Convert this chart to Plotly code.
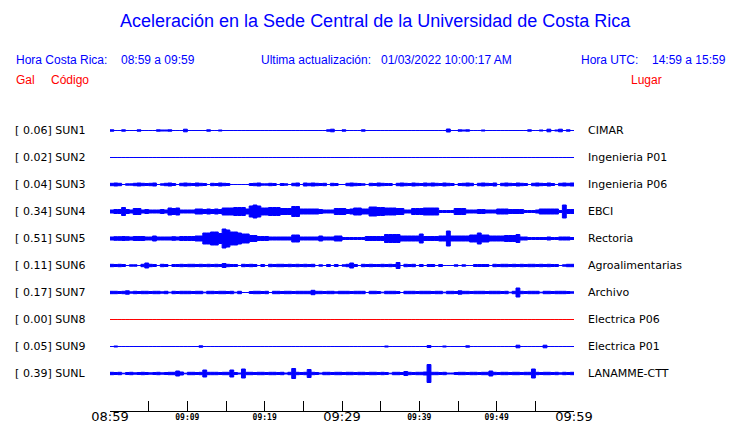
import plotly.graph_objects as go

# ---------------- data ----------------
CODES = ["SUN1", "SUN2", "SUN3", "SUN4", "SUN5", "SUN6", "SUN7", "SUN8", "SUN9", "SUNL"]
GAL = [0.06, 0.02, 0.04, 0.34, 0.51, 0.11, 0.17, 0.00, 0.05, 0.39]
PLACES = ["CIMAR", "Ingenieria P01", "Ingenieria P06", "EBCI", "Rectoria",
          "Agroalimentarias", "Archivo", "Electrica P06", "Electrica P01", "LANAMME-CTT"]

TICK_MINUTES_BIG = [0, 30, 60]
TICK_LABELS_BIG = ["08:59", "09:29", "09:59"]
TICK_MINUTES_SMALL = [10, 20, 40, 50]
TICK_LABELS_SMALL = ["09:09", "09:19", "09:39", "09:49"]
TICK_MINUTES_ALL = [0, 5, 10, 15, 20, 25, 30, 35, 40, 45, 50, 55, 60]

WINDOW_MINUTES = 60
SAMPLE_MINUTES = 0.5   # envelope samples every 30 s (120 per trace)

# envelope half-amplitude of each trace per 30 s sample (display units)
SUN1 = [1.2,0.5,0.5,1.2,0.5,0.5,0.5,1.2,0.5,0.5,
        0.5,0.5,1.2,1,1,1.2,0.5,0.5,0.5,1.8,
        0.5,0.5,0.5,0.5,0.5,1.2,0.5,0.5,1,0.5,
        0.5,0.5,0.5,0.5,0.5,0.5,0.5,0.5,0.5,0.5,
        0.5,0.5,0.5,0.5,0.5,0.5,0.5,0.5,0.5,0.5,
        0.5,0.5,0.5,0.5,0.5,0.5,1.2,1.8,0.5,0.5,
        1.2,0.5,0.5,0.5,0.5,1.2,0.5,0.5,0.5,0.5,
        0.5,0.5,0.5,0.5,0.5,0.5,0.5,0.5,0.5,0.5,
        0.5,0.5,0.5,0.5,0.5,0.5,0.5,2,0.5,0.5,
        1.2,1,1.2,0.5,0.5,0.5,1,0.5,0.5,0.5,
        0.5,0.5,0.5,0.5,0.5,0.5,0.5,0.5,1.2,0.5,
        0.5,1,0.5,1.8,0.5,1,1.8,0.5,1.2,0.5]
SUN2 = [0.5,0.5,0.5,0.5,0.5,0.5,0.5,0.5,0.5,0.5,
        0.5,0.5,0.5,0.5,0.5,0.5,0.5,0.5,0.5,0.5,
        0.5,0.5,0.5,0.5,0.5,0.5,0.5,0.5,0.5,0.5,
        0.5,0.5,0.5,0.5,0.5,0.5,0.5,0.5,0.5,0.5,
        0.5,0.5,0.5,0.5,0.5,0.5,0.5,0.5,0.5,0.5,
        0.5,0.5,0.5,0.5,0.5,0.5,0.5,0.5,0.5,0.5,
        0.5,0.5,0.5,0.5,0.5,0.5,0.5,0.5,0.5,0.5,
        0.5,0.5,0.5,0.5,0.5,0.5,0.5,0.5,0.5,0.5,
        0.5,0.5,0.5,0.5,0.5,0.5,0.5,0.5,0.5,0.5,
        0.5,0.5,0.5,0.5,0.5,0.5,0.5,0.5,0.5,0.5,
        0.5,0.5,0.5,0.5,0.5,0.5,0.5,0.5,0.5,0.5,
        0.5,0.5,0.5,0.5,0.5,0.5,0.5,0.5,0.5,0.5]
SUN3 = [1.7,2,1.7,0.5,1.2,1.2,1.7,2,1.7,1.5,
        1.7,2,0.5,1.2,1.7,2,1.5,0.5,1.7,2,
        1.7,1.5,2,1.7,1.5,0.5,1.7,1.5,2,1.7,
        1.5,0.5,0.5,0.5,0.5,0.5,1.5,1.7,2,1.2,
        1.2,1.7,1.5,0.5,1.5,1.2,0.5,1.7,2,0.5,
        2,1.7,2,1.7,1.5,1.7,0.5,1.7,1.5,0.5,
        0.5,1.7,2,1.7,1.5,1.2,0.5,1.7,1.5,2,
        1.7,1.5,1.5,0.5,1.7,2,1.7,1.5,2,1.7,
        1.5,2,1.7,2,1.7,1.5,2,1.7,1.5,0.5,
        1.5,1.7,2,1.7,0.5,1.7,2,1.7,1.5,2,
        0.5,1.7,2,1.7,1.5,2,1.7,1.5,0.5,1.7,
        2,1.7,1.5,2,1.5,0.5,1.7,2,1.7,2]
SUN4 = [2,2.5,2.5,4.5,2.5,2,3.5,3.5,2,2.5,
        2,2,2,2.5,2,4,3.5,4,2,2,
        2,2,3,3,2.5,3,2.5,3,2.5,4,
        4,4,4.5,4.5,4.5,3,6,7,6,4,
        4,4.5,4.5,4.5,3.5,3.5,3.5,5.5,5.5,3,
        3,3,3,3,2.5,2,2,2,3.5,3.5,
        3.5,2.5,3,4,4,3,3,5,5,4.5,
        4.5,4,4,4,3.5,3.5,2,2,3.5,3.5,
        3.5,4,4,4,4,1.5,1.5,1.5,1.5,3.5,
        3.5,3.5,2,2,2,2.5,2.5,2,2,2,
        3,3,3,2.5,2.5,2.5,2.5,1.5,1.5,1.5,
        2,3,3,3,3,3,1.5,7,2.5,2.5]
SUN5 = [2,2.3,2.3,2.5,2.3,2,2.5,2.5,2.5,2,
        2,3,2,2,2,2,2.3,2,2.5,2.5,
        2.5,2.5,3,3,6,6,7,7,5.5,10,
        9,7,7,6,5,5,3.5,3.5,2.5,2.5,
        2.5,2,2,2,2,2,2,4,4,2,
        2,2,2,2,3,2,2,2,3,3,
        1.5,1.5,1.5,1.5,1.5,1.5,2.5,2.5,2.5,2.5,
        2.5,4.5,4.5,4.5,4.5,3,3,3,3,3,
        5,2.5,2.5,2.5,2.5,3,3,8,3,3,
        3,3,3,4,4,6,4,4,3,3,
        3,3,3.5,3.5,3.5,4.5,2,2,1.5,1.5,
        1.5,1.5,1.5,2,1.5,1.5,2,2,2,1.5]
SUN6 = [1.7,1.5,1.7,1.5,0.5,1.2,1.2,0.5,1.7,3,
        1.7,1.5,0.5,1.7,1.5,0.5,1.5,1.5,1.7,1.5,
        1.7,1.7,1.5,1.7,1.5,1.7,1.5,1.7,1.5,2.5,
        1.7,1.5,1.5,0.5,1.7,1.5,1.7,1.5,0.5,1.5,
        0.5,1.7,1.5,1.7,1.7,1.5,1.7,1.5,1.7,1.5,
        1.7,1.5,1.7,0.5,1.2,0.5,1.5,0.5,1.5,0.5,
        1.2,1.7,3,1.5,0.5,1.7,1.5,1.7,1.5,1.5,
        1.7,1.5,1.7,1.5,3.5,0.5,1.7,1.5,1.7,0.5,
        1.5,0.5,1.5,1.5,0.5,1.5,0.5,0.5,0.5,1.2,
        0.5,1.2,0.5,0.5,1.5,1.5,1.5,1.5,0.5,1.7,
        1.5,1.7,1.7,1.5,1.7,1.5,1.7,1.5,1.7,1.7,
        1.5,1.7,1.5,1.7,1.5,1.5,0.5,1.2,1.7,1.7]
SUN7 = [1.7,1.7,1.5,1.7,2.2,1.2,1.7,1.5,1.7,1.7,
        1.5,1.7,1.7,1.2,1.7,0.8,1.7,1.5,1.7,1.7,
        1.7,1.5,1.7,1.7,0.8,1.7,1.7,1.5,1.7,1.7,
        1.5,1.7,0.8,1.7,0.5,0.5,1.5,1.7,1.7,1.5,
        1.7,0.5,1.7,1.7,1.5,1.7,1.7,1.5,1.7,1.7,
        1.7,1.7,2.7,1.7,1.7,1.5,1.7,1.7,1.2,1.7,
        1.7,1.7,1.5,1.7,1.7,1.7,0.5,1.7,1.7,1.5,
        0.8,1.7,1.7,1.7,1.5,0.5,1.7,1.7,1.7,1.5,
        1.7,1.7,1.7,1.5,1.7,1.7,0.8,1.7,1.7,1.5,
        2.2,1.7,1.7,1.5,1.7,1.7,1.7,1.5,1.7,1.7,
        1.7,1.5,1.7,0.8,1.7,5,1.7,1.5,1.7,1.7,
        1.7,0.8,1.7,1.7,1.5,1.7,1.7,1.7,1.5,1.2]
SUN8 = [0.5,0.5,0.5,0.5,0.5,0.5,0.5,0.5,0.5,0.5,
        0.5,0.5,0.5,0.5,0.5,0.5,0.5,0.5,0.5,0.5,
        0.5,0.5,0.5,0.5,0.5,0.5,0.5,0.5,0.5,0.5,
        0.5,0.5,0.5,0.5,0.5,0.5,0.5,0.5,0.5,0.5,
        0.5,0.5,0.5,0.5,0.5,0.5,0.5,0.5,0.5,0.5,
        0.5,0.5,0.5,0.5,0.5,0.5,0.5,0.5,0.5,0.5,
        0.5,0.5,0.5,0.5,0.5,0.5,0.5,0.5,0.5,0.5,
        0.5,0.5,0.5,0.5,0.5,0.5,0.5,0.5,0.5,0.5,
        0.5,0.5,0.5,0.5,0.5,0.5,0.5,0.5,0.5,0.5,
        0.5,0.5,0.5,0.5,0.5,0.5,0.5,0.5,0.5,0.5,
        0.5,0.5,0.5,0.5,0.5,0.5,0.5,0.5,0.5,0.5,
        0.5,0.5,0.5,0.5,0.5,0.5,0.5,0.5,0.5,0.5]
SUN9 = [0.5,1,0.5,0.5,0.5,0.5,0.5,0.5,0.5,0.5,
        0.5,0.5,0.5,0.5,0.5,0.5,0.5,0.5,0.5,0.5,
        0.5,0.5,0.5,1.2,0.5,0.5,0.5,0.5,0.5,0.5,
        0.5,0.5,0.5,0.5,0.5,0.5,0.5,0.5,0.5,0.5,
        0.5,0.5,0.5,0.5,0.5,0.5,0.5,0.5,0.5,0.5,
        0.5,0.5,0.5,0.5,0.5,0.5,0.5,0.5,0.5,0.5,
        0.5,0.5,0.5,0.5,0.5,0.5,0.5,0.5,0.5,0.5,
        0.5,1,0.5,0.5,0.5,0.5,0.5,0.5,0.5,0.5,
        0.5,0.5,1.5,0.5,0.5,0.5,1,0.5,0.5,0.5,
        0.5,0.5,1.2,0.5,0.5,0.5,0.5,0.5,0.5,0.5,
        0.5,0.5,0.5,0.5,0.5,1.8,0.5,0.5,0.5,0.5,
        0.5,0.5,1.8,0.5,0.5,0.5,0.5,0.5,0.5,0.5]
SUNL = [1.7,1.5,1.7,0.8,1.5,1.7,1.2,1.5,1.7,1.5,
        1.2,1.5,1.7,1.2,1.5,1.7,1.7,3,2,0.8,
        1.7,1.7,1.5,1.7,4,1.7,1.7,1.7,1.5,1.7,
        1.7,4,1.5,1,5,1.7,1.7,1.5,1.7,1.7,
        1.5,1.7,1.7,1.5,1.7,1,1.7,5.5,1.7,1.5,
        1.7,4.5,1.7,1.5,1,1.7,1.7,1.5,1.7,1.7,
        1.5,1.7,1.7,1.5,1.7,1.7,1.5,1.7,1.7,1.5,
        1.7,1.5,0.8,1.7,1.7,1.5,2.5,1.7,1.5,1.7,
        1.7,2,9.5,1.7,1.7,1.5,1.7,1,1,1.5,
        1.7,1.7,1.5,1.7,1.7,1.5,1.7,1.7,3,1.7,
        1.5,1.7,1.7,1.5,1.7,1.7,1.5,1.7,1.7,5,
        1.7,1.5,1.7,1.7,1.5,1.7,1.2,1.7,1.5,1.7]

TRACES = [SUN1, SUN2, SUN3, SUN4, SUN5, SUN6, SUN7, SUN8, SUN9, SUNL]

# ---------------- styling / layout ----------------
BLUE = "#0000FF"
RED = "#FF0000"
TRACE_COLORS = [BLUE] * 7 + [RED] + [BLUE] * 2
ROW_STEP = 27          # vertical spacing between traces in display units
LINE_W = 1

W, H = 740, 423
ML, MR, MT, MB = 110, 166, 100, 12
PW = W - ML - MR
PH = H - MT - MB
Y_TOP = 30.5
Y_BOT = Y_TOP - PH


def px_to_paper_x(px):
    return (px - ML) / PW


def px_to_paper_y(py):
    return (H - MB - py) / PH


fig = go.Figure()

n_samples = len(SUN1)
edges = [i * SAMPLE_MINUTES for i in range(n_samples + 1)]

for k, vals in enumerate(TRACES):
    center = -k * ROW_STEP
    xs, ys = [], []
    for i, v in enumerate(vals):
        h = max(v - LINE_W / 2, 0)
        xs += [edges[i], edges[i + 1]]
        ys += [center + h, center + h]
    for i in range(len(vals) - 1, -1, -1):
        h = max(vals[i] - LINE_W / 2, 0)
        xs += [edges[i + 1], edges[i]]
        ys += [center - h, center - h]
    xs.append(xs[0])
    ys.append(ys[0])
    fig.add_trace(go.Scatter(
        x=xs, y=ys, mode="lines", fill="toself",
        fillcolor=TRACE_COLORS[k],
        line=dict(color=TRACE_COLORS[k], width=LINE_W, simplify=False),
        hoverinfo="skip", showlegend=False,
    ))

# invisible traces so the overlay label axes are drawn
fig.add_trace(go.Scatter(x=[None], y=[None], xaxis="x2", showlegend=False, hoverinfo="skip"))
fig.add_trace(go.Scatter(x=[None], y=[None], xaxis="x3", showlegend=False, hoverinfo="skip"))

annotations = []
LABEL_FONT = dict(family="DejaVu Sans", size=11, color="black")
for k in range(len(CODES)):
    center = -k * ROW_STEP
    annotations.append(dict(
        x=px_to_paper_x(13), xref="paper", y=center, yref="y",
        text="[", showarrow=False, xanchor="left", yanchor="middle", font=LABEL_FONT))
    annotations.append(dict(
        x=px_to_paper_x(88), xref="paper", y=center, yref="y",
        text=f"{GAL[k]:.2f}] {CODES[k]}", showarrow=False,
        xanchor="right", yanchor="middle", font=LABEL_FONT))
    annotations.append(dict(
        x=px_to_paper_x(586), xref="paper", y=center, yref="y",
        text=PLACES[k], showarrow=False,
        xanchor="left", yanchor="middle", font=LABEL_FONT))

HEAD = "Liberation Sans"
header = [
    ("Aceleración en la Sede Central de la Universidad de Costa Rica", 375.5, 21, "center", BLUE, 18),
    ("Hora Costa Rica:", 14, 60, "left", BLUE, 12),
    ("08:59 a 09:59", 119, 60, "left", BLUE, 12),
    ("Ultima actualización:", 259, 60, "left", BLUE, 12),
    ("01/03/2022 10:00:17 AM", 379, 60, "left", BLUE, 12),
    ("Hora UTC:", 579, 60, "left", BLUE, 12),
    ("14:59 a 15:59", 650, 60, "left", BLUE, 12),
    ("Gal", 14, 80, "left", RED, 12),
    ("Código", 49, 80, "left", RED, 12),
    ("Lugar", 629, 80, "left", RED, 12),
]
for text, px, py, anchor, color, size in header:
    annotations.append(dict(
        x=px_to_paper_x(px), xref="paper", y=px_to_paper_y(py), yref="paper",
        text=text, showarrow=False, xanchor=anchor, yanchor="middle",
        font=dict(family=HEAD, size=size, color=color)))

fig.update_layout(
    width=W, height=H,
    margin=dict(l=ML, r=MR, t=MT, b=MB, autoexpand=False),
    paper_bgcolor="white", plot_bgcolor="white",
    showlegend=False,
    annotations=annotations,
    xaxis=dict(
        range=[0, WINDOW_MINUTES], tickmode="array", tickvals=TICK_MINUTES_ALL,
        showticklabels=False, ticks="inside", ticklen=10, tickcolor="black", tickwidth=1,
        showline=True, linecolor="black", linewidth=1, mirror=False,
        showgrid=False, zeroline=False, fixedrange=True, automargin=False,
    ),
    xaxis2=dict(
        range=[0, WINDOW_MINUTES], overlaying="x", anchor="y", side="bottom",
        tickmode="array", tickvals=TICK_MINUTES_BIG, ticktext=TICK_LABELS_BIG,
        ticks="", showline=False, showgrid=False, zeroline=False,
        tickfont=dict(family="DejaVu Sans", size=13, color="black"),
        ticklabelstandoff=-4,
        fixedrange=True, automargin=False,
    ),
    xaxis3=dict(
        range=[0, WINDOW_MINUTES], overlaying="x", anchor="y", side="bottom",
        tickmode="array", tickvals=TICK_MINUTES_SMALL, ticktext=TICK_LABELS_SMALL,
        ticks="", showline=False, showgrid=False, zeroline=False,
        tickfont=dict(family="DejaVu Sans Mono", size=8, color="black", weight="bold"),
        fixedrange=True, automargin=False,
    ),
    yaxis=dict(range=[Y_BOT, Y_TOP], visible=False, fixedrange=True, automargin=False),
)

fig.write_html("out.html", config={"displayModeBar": False},
               post_script="document.body.style.margin='0';document.body.style.padding='0';")
